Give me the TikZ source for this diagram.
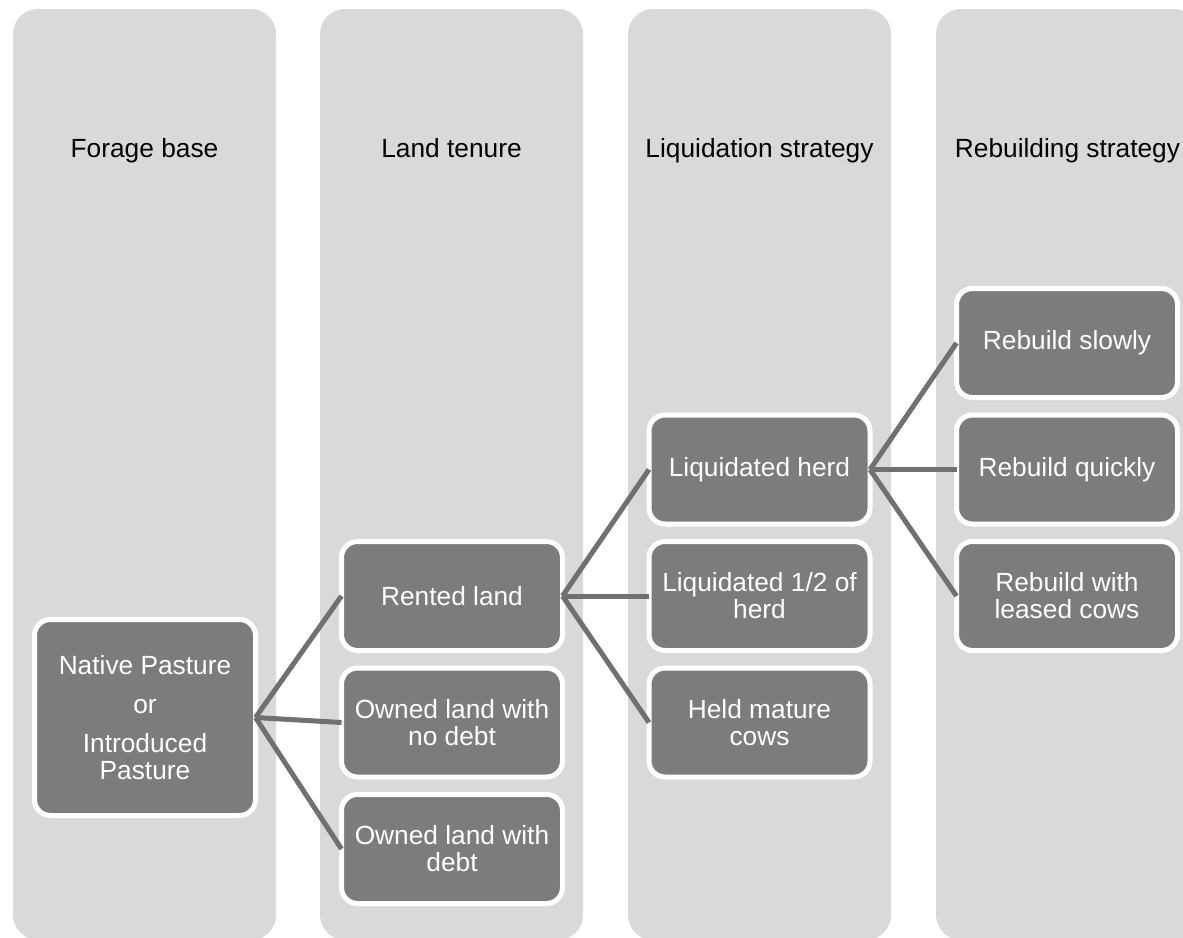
\documentclass[tikz,border=0pt]{standalone}
\usepackage{fontspec}
\setmainfont{Liberation Sans}
\usetikzlibrary{positioning}
\definecolor{lanegray}{RGB}{217,217,217}
\definecolor{boxgray}{RGB}{124,124,124}
\definecolor{linkgray}{RGB}{112,112,112}

\begin{document}
\begin{tikzpicture}[x=1pt, y=-1pt, node distance=17.5pt and 86.5pt,
    choice/.style={rectangle, draw=white, line width=5pt, fill=boxgray, rounded corners=16pt,
      minimum width=221pt, minimum height=109pt, outer sep=0pt, align=center, text=white,
      font=\fontsize{26.3}{27}\selectfont},
    link/.style={draw=linkgray, line width=5pt}]
  \useasboundingbox (0,0) rectangle (1183,937);
  \clip (0,0) rectangle (1183,937);

  % lanes
  \foreach \x/\lab [count=\i] in {13/Forage base, 320/Land tenure, 628/Liquidation strategy, 936/Rebuilding strategy} {
    \fill[lanegray, rounded corners=25pt] (\x,9) rectangle ++(263,931);
    \node[anchor=base, font=\fontsize{26.3}{27}\selectfont] (lane\i) at (\x+131.5,157) {\lab};
  }

  % choices
  \node[choice, minimum height=196pt] (pasture) at (145,717.5) {Native Pasture\\[12pt]or\\[12pt]Introduced\\Pasture};
  \node[choice] (rented) at (452,596) {Rented land};
  \node[choice, below=of rented] (nodebt) {Owned land with\\no debt};
  \node[choice, below=of nodebt] (debt) {Owned land with\\debt};
  \node[choice, right=of rented] (halfherd) {Liquidated 1/2 of\\herd};
  \node[choice, above=of halfherd] (liqherd) {Liquidated herd};
  \node[choice, below=of halfherd] (heldcows) {Held mature\\cows};
  \node[choice, right=of liqherd] (quick) {Rebuild quickly};
  \node[choice, above=of quick] (slow) {Rebuild slowly};
  \node[choice, below=of quick] (leased) {Rebuild with\\leased cows};

  % links
  \foreach \kid in {rented, nodebt, debt}
    \draw[link] (pasture.east) -- (\kid.west);
  \foreach \kid in {liqherd, halfherd, heldcows}
    \draw[link] (rented.east) -- (\kid.west);
  \foreach \kid in {slow, quick, leased}
    \draw[link] (liqherd.east) -- (\kid.west);
\end{tikzpicture}
\end{document}
